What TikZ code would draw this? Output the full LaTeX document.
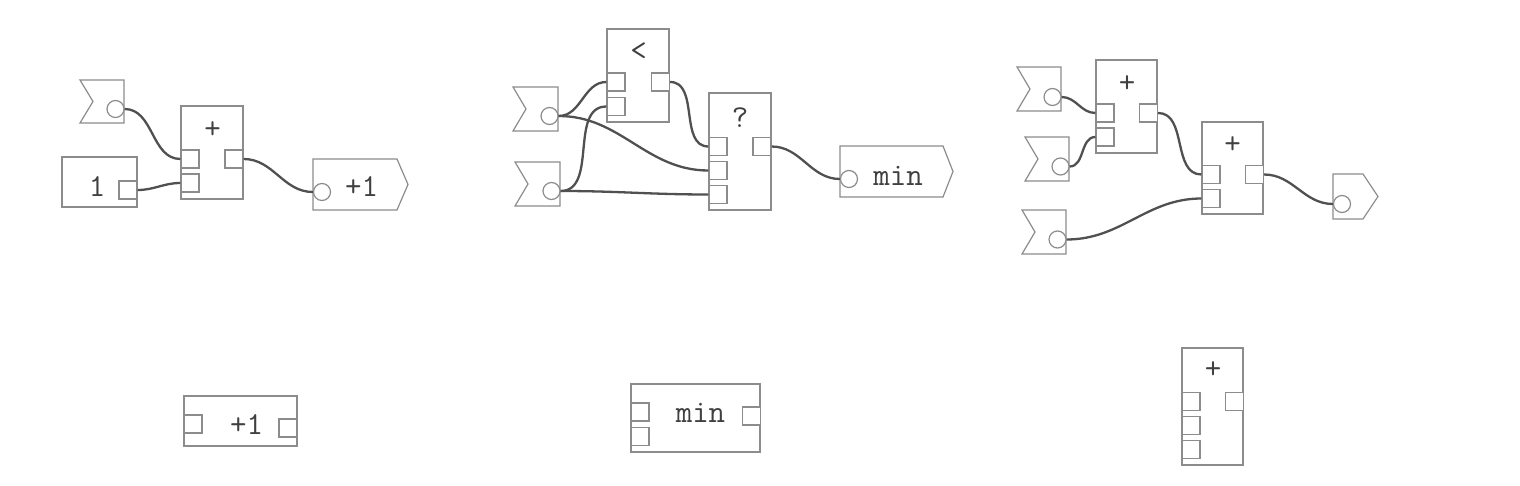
\documentclass[tikz,border=0pt]{standalone}
\definecolor{boxgray}{HTML}{8C8C8C}
\definecolor{wiregray}{HTML}{505050}
\definecolor{txtgray}{HTML}{404040}
\tikzset{
  box/.style={draw=boxgray,line width=1.2pt,fill=white,inner sep=0pt},
  port/.style={draw=boxgray,line width=1.2pt,fill=white,minimum size=18pt,inner sep=0pt},
  pin/.style={circle,draw=boxgray,line width=1.2pt,fill=white,minimum size=17pt,inner sep=0pt},
  flag/.style={draw=boxgray,line width=1.2pt,fill=white},
  wire/.style={draw=wiregray,line width=2.3pt,out=0,in=180},
  lbl/.style={text=txtgray,font=\ttfamily\fontsize{32}{32}\selectfont,inner sep=0pt}
}
\begin{document}
\begin{tikzpicture}[x=1pt,y=-1pt]
                \useasboundingbox (0,0) rectangle (1520,486);
                \draw[flag](80,80)--(124,80)--(124,123)--(80,123)--(93,101.5)--cycle;
                \node[pin](inA)at(115.5,109){};
                \node[box,minimum width=75pt,minimum height=50pt](oneBox)at(99.5,182){};
                \node[lbl](oneTxt)at(97,187){1};
                \node[port](oneOut)at(128,190){};
                \node[box,minimum width=62pt,minimum height=93pt](addA)at(212,152.5){};
                \node[lbl](addATxt)at(212.5,130){+};
                \node[port](addAin1)at(190,159){};
                \node[port](addAin2)at(190,183){};
                \node[port](addAout)at(234,159){};
                \draw[flag](313,159)--(397,159)--(408,184.5)--(397,210)--(313,210)--cycle;
                \node[pin](outA)at(322,192){};
                \node[lbl](outATxt)at(361.5,187){+1};
                \draw[wire](inA.east) to (addAin1.west);
                \draw[wire](oneOut.east) to (addAin2.west);
                \draw[wire](addAout.east) to (outA.west);
                \draw[flag](513,87)--(558,87)--(558,131)--(513,131)--(526,109)--cycle;
                \node[pin](inB)at(549.5,116){};
                \draw[flag](515,162)--(560,162)--(560,206)--(515,206)--(528,184)--cycle;
                \node[pin](inC)at(551.5,191){};
                \node[box,minimum width=62pt,minimum height=93pt](ltBox)at(638,75.5){};
                \node[lbl](ltTxt)at(638.5,51.5){<};
                \node[port](ltIn1)at(616,82){};
                \node[port](ltIn2)at(616,106.5){};
                \node[port](ltOut)at(660.5,82){};
                \node[box,minimum width=62pt,minimum height=117pt](selBox)at(740,151.5){};
                \node[lbl](selTxt)at(740,117.5){?};
                \node[port](selIn1)at(718,146.5){};
                \node[port](selIn2)at(718,170.5){};
                \node[port](selIn3)at(718,194.5){};
                \node[port](selOut)at(762,146.5){};
                \draw[flag](840,146)--(943,146)--(953,171.5)--(943,197)--(840,197)--cycle;
                \node[pin](outB)at(849,179){};
                \node[lbl](outBTxt)at(898,176){min};
                \draw[wire](inB.east) to (ltIn1.west);
                \draw[wire](inC.east) to (ltIn2.west);
                \draw[wire](inB.east) to (selIn2.west);
                \draw[wire](inC.east) to (selIn3.west);
                \draw[wire](ltOut.east) to (selIn1.west);
                \draw[wire](selOut.east) to (outB.west);
                \draw[flag](1017,67)--(1061,67)--(1061,111)--(1017,111)--(1030,89)--cycle;
                \node[pin](inD)at(1052.5,97){};
                \draw[flag](1025,137)--(1069,137)--(1069,181)--(1025,181)--(1038,159)--cycle;
                \node[pin](inE)at(1060.5,166.5){};
                \draw[flag](1022,210)--(1066,210)--(1066,254)--(1022,254)--(1035,232)--cycle;
                \node[pin](inF)at(1057.5,239.5){};
                \node[box,minimum width=61pt,minimum height=93pt](addB)at(1126.5,106.5){};
                \node[lbl](addBTxt)at(1127,84){+};
                \node[port](addBin1)at(1105,113){};
                \node[port](addBin2)at(1105,137){};
                \node[port](addBout)at(1148.5,113){};
                \node[box,minimum width=61pt,minimum height=92pt](addC)at(1232.5,168){};
                \node[lbl](addCTxt)at(1232.5,145.5){+};
                \node[port](addCin1)at(1211,174.5){};
                \node[port](addCin2)at(1211,198.5){};
                \node[port](addCout)at(1254.5,174.5){};
                \draw[flag](1333,174)--(1363,174)--(1378,196.5)--(1363,219)--(1333,219)--cycle;
                \node[pin](outC)at(1342,204){};
                \draw[wire](inD.east) to (addBin1.west);
                \draw[wire](inE.east) to (addBin2.west);
                \draw[wire](addBout.east) to (addCin1.west);
                \draw[wire](inF.east) to (addCin2.west);
                \draw[wire](addCout.east) to (outC.west);
                \node[box,minimum width=113pt,minimum height=50pt](incBox)at(240.5,421){};
                \node[lbl](incTxt)at(246.5,424.5){+1};
                \node[port](incIn)at(193,424){};
                \node[port](incOut)at(288,428){};
                \node[box,minimum width=129pt,minimum height=68pt](minBox)at(695.5,418){};
                \node[lbl](minTxt)at(700.5,413){min};
                \node[port](minIn1)at(640,412){};
                \node[port](minIn2)at(640,436.5){};
                \node[port](minOut)at(751.5,416){};
                \node[box,minimum width=61pt,minimum height=117pt](sumBox)at(1212.5,406.5){};
                \node[lbl](sumTxt)at(1213,370.5){+};
                \node[port](sumIn1)at(1191,401.5){};
                \node[port](sumIn2)at(1191,425.5){};
                \node[port](sumIn3)at(1191,449.5){};
                \node[port](sumOut)at(1234.5,401.5){};
            \end{tikzpicture}
\end{document}
